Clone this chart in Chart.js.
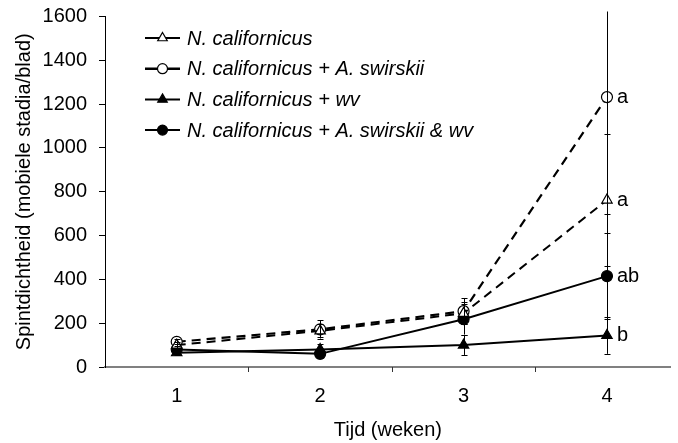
<!DOCTYPE html>
<html>
<head>
<meta charset="utf-8">
<script src="https://cdn.jsdelivr.net/npm/chart.js@4.4.1/dist/chart.umd.min.js"></script>
<style>
  html, body { margin: 0; padding: 0; background: #fff; overflow: hidden; }
  canvas { display: block; }
</style>
</head>
<body>
<canvas id="c" width="678" height="443" style="width:678px;height:443px"></canvas>
<script>
// ---- data ----
const weeks = [1, 2, 3, 4];
const weekLabels = ['1', '2', '3', '4'];
const seriesNames = [
  'N. californicus',
  'N. californicus + A. swirskii',
  'N. californicus + wv',
  'N. californicus + A. swirskii & wv'
];
const ncal        = [100, 165, 245, 762];
const ncalErr     = [15, 30, 50, 300];
const ncalAsw     = [115, 172, 255, 1232];
const ncalAswErr  = [12, 42, 60, 532];
const ncalWv      = [65, 80, 100, 144];
const ncalWvErr   = [10, 25, 45, 84];
const ncalAswWv   = [80, 60, 218, 415];
const ncalAswWvErr= [15, 20, 70, 198];
const sigLetters  = ['a', 'a', 'b', 'ab'];
const yMin = 0, yMax = 1600, yStep = 200;
const xTitle = 'Tijd (weken)';
const yTitle = 'Spintdichtheid (mobiele stadia/blad)';

const FONT = "'Liberation Sans', Arial, sans-serif";

const values = [ncal, ncalAsw, ncalWv, ncalAswWv];
const errors = [ncalErr, ncalAswErr, ncalWvErr, ncalAswWvErr];
const styles = [
  { pointStyle: 'triangle', fill: '#ffffff', dash: [9, 6], width: 2, radius: 6 },
  { pointStyle: 'circle',   fill: '#ffffff', dash: [9, 6], width: 2.2, radius: 5.5 },
  { pointStyle: 'triangle', fill: '#000000', dash: [],     width: 2, radius: 6 },
  { pointStyle: 'circle',   fill: '#000000', dash: [],     width: 2, radius: 5.5 }
];

const datasets = values.map((v, i) => ({
  label: seriesNames[i],
  data: v.map((val, j) => ({ x: weeks[j], y: val })),
  borderColor: '#000',
  borderWidth: styles[i].width,
  borderDash: styles[i].dash,
  pointStyle: styles[i].pointStyle,
  pointRadius: styles[i].radius,
  pointBackgroundColor: styles[i].fill,
  pointBorderColor: '#000',
  pointBorderWidth: 1.2,
  tension: 0,
  fill: false
}));

// category boundaries (tick marks between weeks)
const boundaries = [1.5, 2.5, 3.5];

const errorBars = {
  id: 'errorBars',
  afterDatasetsDraw(chart) {
    const ctx = chart.ctx, y = chart.scales.y, area = chart.chartArea;
    ctx.save();
    ctx.beginPath();
    ctx.rect(area.left, area.top - 5, area.right - area.left, area.bottom - area.top + 5);
    ctx.clip();
    ctx.strokeStyle = '#000';
    ctx.lineWidth = 1;
    chart.data.datasets.forEach((ds, i) => {
      const meta = chart.getDatasetMeta(i);
      meta.data.forEach((pt, j) => {
        const v = values[i][j], e = errors[i][j];
        const x = Math.round(pt.x) + 0.5;
        const yt = y.getPixelForValue(v + e), yb = y.getPixelForValue(v - e);
        ctx.beginPath();
        ctx.moveTo(x, yt); ctx.lineTo(x, yb);
        ctx.moveTo(x - 3, Math.round(yt) + 0.5); ctx.lineTo(x + 3, Math.round(yt) + 0.5);
        ctx.moveTo(x - 3, Math.round(yb) + 0.5); ctx.lineTo(x + 3, Math.round(yb) + 0.5);
        ctx.stroke();
      });
    });
    ctx.restore();
  }
};

const annotations = {
  id: 'annotations',
  afterDraw(chart) {
    const ctx = chart.ctx, xs = chart.scales.x, area = chart.chartArea;
    ctx.save();
    // boundary tick marks on x axis
    ctx.strokeStyle = '#333';
    ctx.lineWidth = 1;
    boundaries.forEach(b => {
      const px = Math.round(xs.getPixelForValue(b)) + 0.5;
      ctx.beginPath();
      ctx.moveTo(px, area.bottom);
      ctx.lineTo(px, area.bottom + 5);
      ctx.stroke();
    });
    // significance letters
    ctx.fillStyle = '#000';
    ctx.font = '20px ' + FONT;
    ctx.textAlign = 'left';
    ctx.textBaseline = 'middle';
    chart.data.datasets.forEach((ds, i) => {
      const meta = chart.getDatasetMeta(i);
      const pt = meta.data[meta.data.length - 1];
      ctx.fillText(sigLetters[i], pt.x + 10, pt.y);
    });
    // legend
    const lx0 = 145, lx1 = 180, tx = 187, y0 = 38, dy = 30.7;
    chart.data.datasets.forEach((ds, i) => {
      const yy = y0 + i * dy;
      ctx.strokeStyle = '#000';
      ctx.lineWidth = i === 1 ? 2.5 : 2;
      ctx.setLineDash([]);
      ctx.beginPath();
      ctx.moveTo(lx0, yy); ctx.lineTo(lx1, yy);
      ctx.stroke();
      ctx.lineWidth = 1.2;
      ctx.fillStyle = styles[i].fill;
      Chart.helpers.drawPoint(ctx, {
        pointStyle: styles[i].pointStyle,
        radius: styles[i].pointStyle === 'triangle' ? 5.5 : 5,
        rotation: 0,
        borderWidth: 1.2
      }, (lx0 + lx1) / 2, yy);
      ctx.fillStyle = '#000';
      ctx.font = 'italic 20px ' + FONT;
      ctx.textAlign = 'left';
      ctx.textBaseline = 'middle';
      ctx.fillText(ds.label, tx, yy + 1);
    });
    ctx.restore();
  }
};

function zeroPad(scale) {
  scale.paddingTop = 0; scale.paddingBottom = 0;
  scale.paddingLeft = 0; scale.paddingRight = 0;
}

new Chart(document.getElementById('c'), {
  type: 'line',
  data: { datasets },
  plugins: [errorBars, annotations],
  options: {
    responsive: false,
    animation: false,
    devicePixelRatio: 1,
    layout: { padding: { top: 16.5, left: 0, right: 0, bottom: 0 } },
    plugins: { legend: { display: false }, tooltip: { enabled: false } },
    scales: {
      x: {
        type: 'linear',
        min: 0.5,
        max: 4.445,
        afterBuildTicks(scale) { scale.ticks = weeks.map(w => ({ value: w })); },
        grid: { drawOnChartArea: false, drawTicks: false },
        border: { display: true, color: '#808080', width: 2 },
        ticks: { color: '#000', font: { family: FONT, size: 20 }, padding: 17, maxRotation: 0, autoSkip: false,
                 callback: (v) => weekLabels[weeks.indexOf(v)] },
        title: { display: true, text: xTitle, color: '#000', font: { family: FONT, size: 20 }, padding: { top: 1, bottom: 1 } },
        afterFit(scale) { scale.height = 76; zeroPad(scale); }
      },
      y: {
        min: yMin, max: yMax,
        grid: { drawOnChartArea: false, drawTicks: true, tickLength: 6, color: '#000', lineWidth: 1 },
        border: { display: true, color: '#000', width: 1 },
        ticks: { stepSize: yStep, color: '#000', font: { family: FONT, size: 20 }, padding: 12,
                 callback: (v) => String(v) },
        title: { display: true, text: yTitle, color: '#000', font: { family: FONT, size: 20 }, padding: { top: 12, bottom: 12 } },
        afterFit(scale) { scale.width = 105; zeroPad(scale); }
      }
    }
  }
});
</script>
</body>
</html>
